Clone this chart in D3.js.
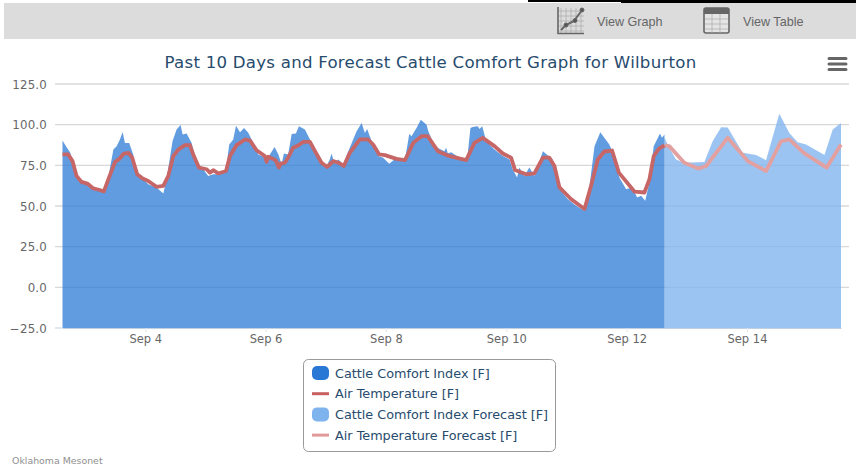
<!DOCTYPE html>
<html><head><meta charset="utf-8">
<script src="https://cdn.jsdelivr.net/npm/d3@7"></script>
<style>html,body{margin:0;padding:0;background:#fff;overflow:hidden}svg{display:block}</style>
</head><body><svg id="c" width="856" height="466"></svg>
<script>
const chartTitle = "Past 10 Days and Forecast Cattle Comfort Graph for Wilburton";
const seriesNames = ["Cattle Comfort Index [F]","Air Temperature [F]","Cattle Comfort Index Forecast [F]","Air Temperature Forecast [F]"];
const yTicks = [-25,0,25,50,75,100,125];
// hours after Sep 2 15:00
const cciHours = [0,1.7,3,4.3,5.7,7.6,10.3,12.3,16.3,17.6,20.3,21.6,22.9,24,24.9,26.6,28.2,29.6,31.6,34.2,37.5,40.2,41.5,43.9,45.5,47.1,47.9,49.5,51.5,53.5,55.5,58.1,60.1,62.8,65.2,66.5,68.1,69.2,70.8,72.4,74.1,76.1,78.1,80.1,81.4,82.7,84.6,86.1,87.4,88.3,90,91.4,93.1,94.3,96.7,98.7,101.3,103.3,105.3,106.6,107.3,108.4,110,112,114,117.3,119.3,120.6,121.5,123.3,125.9,127.9,130.3,133.2,136.6,138.3,139.2,141.2,142.9,145.2,145.9,148.4,152.3,153,153.7,155,159,161.4,162.7,163.6,165.6,166.3,167.4,169,172.3,175.6,178.3,179.6,181.3,182.2,184.2,186.2,188.2,191.6,195.5,198.2,201.5,204.8,208.2,210.2,212.2,214.5,216.1,218.1,219.5,222.1,224.8,227.2,229.2,230.8,232.4,234.1,235.8,238.3,239.1,240.1];
const cciValues = [90.2,86,83,76.6,68.5,64.4,62.4,60,58.7,62,84.7,86.8,90.9,95.5,88.8,88.8,81.7,71.5,67.5,63.4,61.4,57.7,66.5,90,97,99.8,94,94.5,88.8,76.6,74,68.5,69.5,69.5,72.5,87.8,90.9,99.4,95.3,98,95,88.8,81.7,80.3,76.6,81.7,86.2,81.7,75.6,82.3,81.7,94.3,94.5,99,97,90.9,80.7,76.6,74.6,78.6,82.3,76.6,78.6,75.6,83.7,95.9,101,94.9,97.4,89.8,80.7,79.7,76,79.7,78.6,94.3,92.9,98,103,100,96,86.8,83.7,85.8,82.3,83,79,78.6,98,98.6,99,97.4,99,89.8,84.7,80.7,78.6,72.5,67.5,73.6,68.5,73.6,68.5,83.7,78.6,60.3,54.3,50.2,47.1,62.4,86.8,95.3,91.9,87.8,82.7,67.5,60.3,61.4,55.3,56.3,53.2,64.4,86.8,94.5,91.9,93.9];
const tempHours = [0,2.3,4,5.6,7.6,9.9,12.3,14.5,16.5,18.3,21,22.7,24.3,26.3,27.8,29.8,32,34.2,37.5,40.2,42.2,44.2,46.2,48.8,50.8,52.4,54.4,57.5,58.8,60.1,62.1,65.2,66.8,69.4,72.8,74.8,77.4,80.7,81.4,82.1,85,86.3,87,88.7,90,92,94,96,98.7,100.7,103.3,105.6,108,110,112.2,114.6,118.6,121.9,123.9,126.3,128.6,133.2,136.6,139.9,143.2,145.7,149.7,153.7,161,164.3,167.6,172.3,175.6,178.9,180.5,184.9,188.2,191.6,194.2,196.2,198.2,202.8,208.2,210.8,213.5,216.1,219.2,221.9,228.1,232.1,234.1,235.8,238,240.1];
const tempValues = [81.7,81.7,77.6,68.5,64.8,63.8,60.8,60,59,66.5,77.2,79,82,82.7,79.7,69.5,66.9,65.4,61.8,62.4,68.5,80.7,84.7,87.4,87.4,80.7,73.6,72.6,70.5,72,70,71.5,80.7,87.4,90.9,90.2,84.3,80.7,77.2,80.3,78.2,73.6,76,76.6,79.7,85.8,87.2,89.4,89.4,83.7,76.6,74,77.6,76.6,74.6,82.7,90.9,90.9,87.8,81.7,81.3,79,78.2,88.8,92.9,92.9,83.7,81,78.2,88.8,91.9,86.8,82.3,79.7,72.1,69.5,70,79.7,79.7,74.6,61.4,54.3,48.2,62.4,78.6,83.5,84.1,70.5,58.9,58.3,66.5,80.7,85.4,87.2];
const fcCciHours = [240.1,242,244.7,248,256,259.3,262.7,265.3,271.3,276.6,280.6,285.9,289.9,293.2,296.6,303.9,307.2,310.5];
const fcCciValues = [91.9,85.8,78.6,76.6,77,89.8,98.4,98.2,82.7,81.3,78.2,106.7,94.9,89.2,87.8,81.3,97,101];
const fcTempHours = [240.1,242,248,253.6,256.7,265.3,273.3,280.6,286.6,289.9,295.9,304.8,310.5];
const fcTempValues = [87.2,86.8,76.6,73,74.6,91.9,77.6,71.5,89.8,90.9,82.3,73.6,87.8];

const svg = d3.select("#c");
const font = "'DejaVu Sans',sans-serif";
const t0 = new Date(2023,8,2,15);
const toDate = h => t0.getTime() + h*3600000;
const x = d3.scaleTime().domain([toDate(0), toDate(310.5)]).range([62.5, 841]);
const y = d3.scaleLinear().domain([-25,125]).range([328, 84]);
const pts = (hs,vs) => hs.map((h,i)=>[toDate(h),vs[i]]);
const area = d3.area().x(d=>x(d[0])).y0(y(-25)).y1(d=>y(d[1]));
const line = d3.line().x(d=>x(d[0])).y(d=>y(d[1]));

// header bar
svg.append("rect").attr("x",528).attr("y",0).attr("width",328).attr("height",3).attr("fill","#000");
svg.append("rect").attr("x",528).attr("y",2).attr("width",93).attr("height",1).attr("fill","#fff");
svg.append("rect").attr("x",4).attr("y",3).attr("width",852).attr("height",36).attr("fill","#dcdcdc");
const g1 = svg.append("g").attr("fill","none").attr("stroke","#666");
g1.append("path").attr("stroke","#aaa").attr("stroke-width",.7).attr("d",d3.range(561,584,5).map(v=>`M${v} 8V33`).join("")+d3.range(11,32,5).map(v=>`M558 ${v}H584`).join(""));
g1.append("path").attr("stroke-width",1.6).attr("d","M558 7V33.5H584");
g1.append("path").attr("stroke-width",2).attr("d","M561 30L566 25L574 21L582 10");
[[566,25],[575,20.5],[582,10]].forEach(p=>g1.append("circle").attr("cx",p[0]).attr("cy",p[1]).attr("r",2).attr("fill","#555"));
const g2 = svg.append("g");
g2.append("rect").attr("x",704).attr("y",8).attr("width",25).attr("height",25).attr("rx",2).attr("fill","#e4e4e4").attr("stroke","#666").attr("stroke-width",1.6);
g2.append("rect").attr("x",704).attr("y",8).attr("width",25).attr("height",6).attr("fill","#666");
g2.append("path").attr("stroke","#aaa").attr("stroke-width",.7).attr("d","M712 14V33M720 14V33M705 19H728M705 24H728M705 29H728");
[["View Graph",597],["View Table",743]].forEach(d=>svg.append("text").attr("x",d[1]).attr("y",26).attr("font-family","'Liberation Sans',sans-serif").attr("font-size",12.6).attr("fill","#666").text(d[0]));

// title and menu
svg.append("text").attr("x",430.5).attr("y",68).attr("text-anchor","middle").attr("font-family",font).attr("font-size",16.6).attr("letter-spacing",0.25).attr("fill","#274b6d").text(chartTitle);
svg.append("path").attr("d","M829 58.5H846M829 64H846M829 69.5H846").attr("stroke","#666").attr("stroke-width",3).attr("stroke-linecap","round");

// grid
svg.append("g").selectAll("line").data(yTicks.filter(v=>v>-25)).join("line")
  .attr("x1",55).attr("x2",849).attr("y1",d=>y(d)).attr("y2",d=>y(d)).attr("stroke","#d8d8d8").attr("stroke-width",1.4);

// areas and lines
svg.append("path").datum(pts(fcCciHours,fcCciValues)).attr("d",area).attr("fill","#7fb3ee").attr("fill-opacity",.78);
svg.append("path").datum(pts(cciHours,cciValues)).attr("d",area).attr("fill","#2a78d5").attr("fill-opacity",.74);
svg.append("path").datum(pts(fcTempHours,fcTempValues)).attr("d",line).attr("fill","none").attr("stroke","#e3a0a0").attr("stroke-width",3.8).attr("stroke-linejoin","round");
svg.append("path").datum(pts(tempHours,tempValues)).attr("d",line).attr("fill","none").attr("stroke","#c76666").attr("stroke-width",3.8).attr("stroke-linejoin","round");

// axes
const yAxis = d3.axisLeft(y).tickValues(yTicks).tickSize(0).tickPadding(0);
const yg = svg.append("g").attr("transform","translate(47,0)").call(yAxis);
yg.select(".domain").remove();
yg.selectAll("text").attr("font-family",font).attr("font-size",11.8).attr("letter-spacing",0.2).attr("fill","#666").attr("dy","0.36em").text(d=>d3.format(".1f")(d).replace("-","\u2212"));
svg.append("line").attr("x1",55).attr("x2",62.5).attr("y1",328).attr("y2",328).attr("stroke","#c0d0e0");
const xTicks = [4,6,8,10,12,14].map(d=>new Date(2023,8,d).getTime());
const xAxis = d3.axisBottom(x).tickValues(xTicks).tickFormat(d3.timeFormat("%b %-d")).tickSize(4).tickSizeOuter(0).tickPadding(3);
const xg = svg.append("g").attr("transform","translate(0,328)").call(xAxis);
xg.select(".domain").attr("stroke","#c0d0e0");
xg.selectAll("line").attr("stroke","#dde5ee");
xg.selectAll("text").attr("font-family",font).attr("font-size",11.5).attr("fill","#666");

// legend
svg.append("rect").attr("x",303.5).attr("y",359.5).attr("width",252).attr("height",92).attr("rx",5).attr("fill","#fff").attr("stroke","#999").attr("stroke-width",1);
const kinds = [["area","#2a78d5"],["line","#c96060"],["area","#7fb3ee"],["line","#e09a9a"]];
seriesNames.forEach((n,i)=>{
  const cy = 373+i*20.7;
  if(kinds[i][0]==="area") svg.append("rect").attr("x",312).attr("y",cy-7).attr("width",17).attr("height",14).attr("rx",5).attr("fill",kinds[i][1]);
  else svg.append("line").attr("x1",312).attr("x2",329).attr("y1",cy).attr("y2",cy).attr("stroke",kinds[i][1]).attr("stroke-width",3);
  svg.append("text").attr("x",335).attr("y",cy+4.5).attr("font-family",font).attr("font-size",12.8).attr("fill","#274b6d").text(n);
});
svg.append("text").attr("x",12).attr("y",464).attr("font-family",font).attr("font-size",9.4).attr("fill","#909090").text("Oklahoma Mesonet");
</script></body></html>
